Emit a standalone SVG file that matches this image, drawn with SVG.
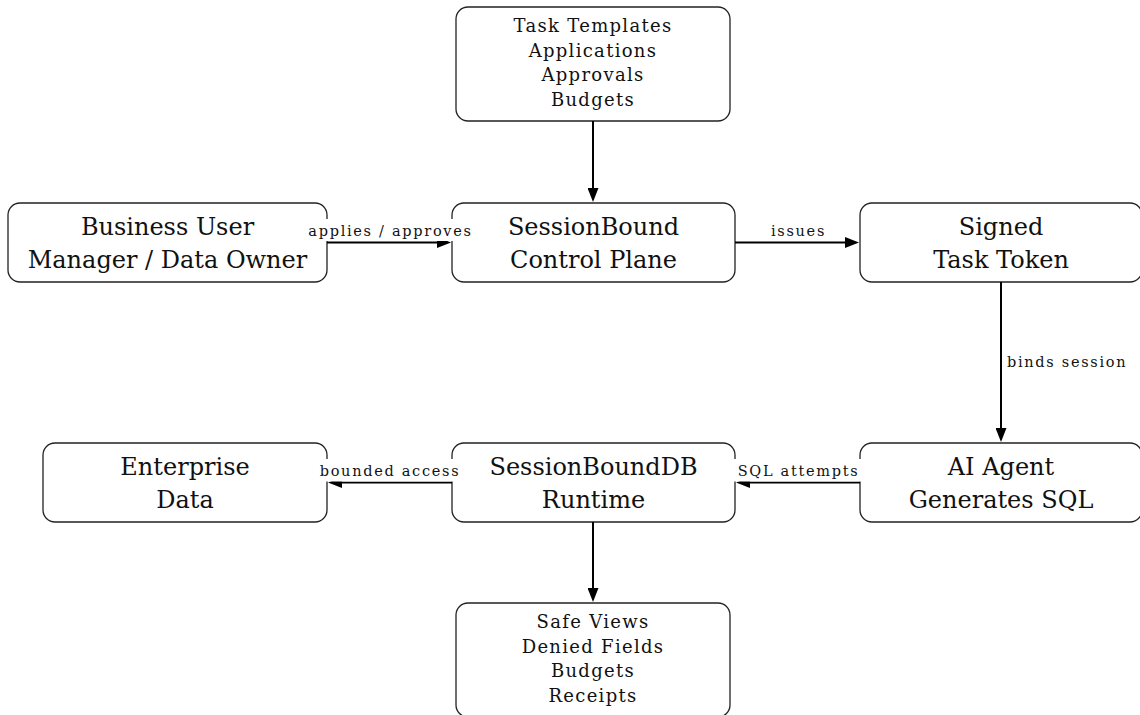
<svg xmlns="http://www.w3.org/2000/svg" width="1140" height="715" viewBox="0 0 1140 715">
<style>
.box{fill:#fff;stroke:#222;stroke-width:1.3}
.big{font-family:"DejaVu Serif","Liberation Serif",serif;font-size:24px;fill:#111;text-anchor:middle}
.list{font-family:"DejaVu Serif","Liberation Serif",serif;font-size:18px;letter-spacing:1.3px;fill:#111;text-anchor:middle}
.lbl{font-family:"DejaVu Serif","Liberation Serif",serif;font-size:14.5px;letter-spacing:1.7px;fill:#111}
.edge{fill:none;stroke:#000;stroke-width:2;marker-end:url(#arr)}
.lbg{fill:#fff;stroke:none}
</style>
<defs>
<marker id="arr" markerUnits="userSpaceOnUse" markerWidth="14" markerHeight="11" refX="10" refY="5.5" orient="auto">
<path d="M0,0 L14,5.5 L0,11 z" fill="#000"/>
</marker>
</defs>
<rect width="1140" height="715" fill="#fff"/>
<g id="tasks">
<rect class="box" x="456" y="7" width="274" height="114" rx="12"/>
<text class="list" x="593" y="32">Task Templates</text>
<text class="list" x="593" y="56.5">Applications</text>
<text class="list" x="593" y="81">Approvals</text>
<text class="list" x="593" y="105.5">Budgets</text>
</g>
<g id="user">
<rect class="box" x="8" y="203" width="319" height="79" rx="12"/>
<text class="big" x="167.5" y="234.5">Business User</text>
<text class="big" x="167.5" y="267.5">Manager / Data Owner</text>
</g>
<g id="controlplane">
<rect class="box" x="452" y="203" width="283" height="79" rx="12"/>
<text class="big" x="593.5" y="234.5">SessionBound</text>
<text class="big" x="593.5" y="267.5">Control Plane</text>
</g>
<g id="token">
<rect class="box" x="860" y="203" width="282" height="79" rx="12"/>
<text class="big" x="1001" y="234.5">Signed</text>
<text class="big" x="1001" y="267.5">Task Token</text>
</g>
<g id="data">
<rect class="box" x="43" y="443" width="284" height="79" rx="12"/>
<text class="big" x="185" y="474.5">Enterprise</text>
<text class="big" x="185" y="507.5">Data</text>
</g>
<g id="runtime">
<rect class="box" x="452" y="443" width="283" height="79" rx="12"/>
<text class="big" x="593.5" y="474.5">SessionBoundDB</text>
<text class="big" x="593.5" y="507.5">Runtime</text>
</g>
<g id="agent">
<rect class="box" x="860" y="443" width="282" height="79" rx="12"/>
<text class="big" x="1001" y="474.5">AI Agent</text>
<text class="big" x="1001" y="507.5">Generates SQL</text>
</g>
<g id="safe">
<rect class="box" x="456" y="603" width="274" height="114" rx="12"/>
<text class="list" x="593" y="628">Safe Views</text>
<text class="list" x="593" y="652.5">Denied Fields</text>
<text class="list" x="593" y="677">Budgets</text>
<text class="list" x="593" y="701.5">Receipts</text>
</g>
<g id="connectors">
<path class="edge" d="M593,121 L593,198"/>
<path class="edge" d="M327,242.5 L447,242.5"/>
<path class="edge" d="M735,242.5 L855,242.5"/>
<path class="edge" d="M1001,282 L1001,438"/>
<path class="edge" d="M860,482.5 L740,482.5"/>
<path class="edge" d="M452,482.5 L332,482.5"/>
<path class="edge" d="M593,522 L593,598"/>
<rect class="lbg" x="303" y="219" width="173" height="22"/>
<text class="lbl" x="390.5" y="236" text-anchor="middle">applies / approves</text>
<rect class="lbg" x="768" y="219" width="59" height="22"/>
<text class="lbl" x="798.5" y="236" text-anchor="middle">issues</text>
<text class="lbl" x="1007" y="366.5">binds session</text>
<rect class="lbg" x="731" y="459" width="133" height="22.5"/>
<text class="lbl" x="798.5" y="476" text-anchor="middle">SQL attempts</text>
<rect class="lbg" x="316" y="459" width="146" height="22.5"/>
<text class="lbl" x="390" y="476" text-anchor="middle">bounded access</text>
</g>
</svg>
